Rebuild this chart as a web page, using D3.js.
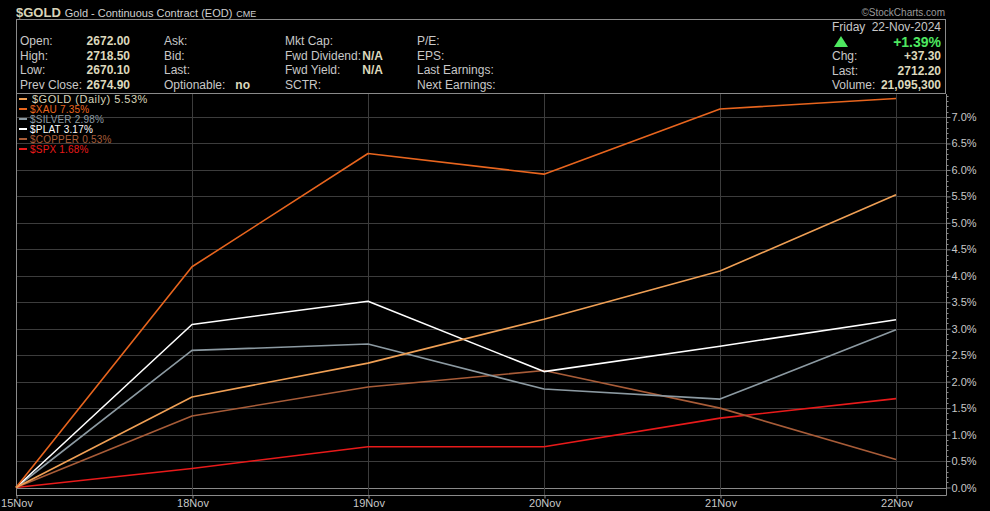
<!DOCTYPE html>
<html>
<head>
<meta charset="utf-8">
<script src="https://cdn.jsdelivr.net/npm/d3@7"></script>
<style>
  html, body { margin: 0; padding: 0; background: #000; }
  svg { display: block; font-family: "Liberation Sans", Arial, sans-serif; }
</style>
</head>
<body>
<svg id="chart" width="990" height="511"></svg>
<script>
// dates and % change series
const dates = ["15Nov", "18Nov", "19Nov", "20Nov", "21Nov", "22Nov"];
const gold = [0, 1.71, 2.35, 3.18, 4.09, 5.53];
const xau = [0, 4.17, 6.31, 5.92, 7.15, 7.35];
const silver = [0, 2.59, 2.71, 1.86, 1.67, 2.98];
const plat = [0, 3.08, 3.52, 2.19, 2.67, 3.17];
const copper = [0, 1.35, 1.90, 2.21, 1.50, 0.53];
const spx = [0, 0.36, 0.77, 0.77, 1.31, 1.68];

const seriesNames = ["$GOLD (Daily) 5.53%", "$XAU 7.35%", "$SILVER 2.98%", "$PLAT 3.17%", "$COPPER 0.53%", "$SPX 1.68%"];
const seriesColors = ["#f0a055", "#e8651e", "#8c9aa2", "#ffffff", "#a85c38", "#e81a1a"];
const legendText = ["#d8d4b8", "#e8651e", "#8c9aa2", "#ffffff", "#a85c38", "#e81a1a"];
const yTicks = [0, 0.5, 1, 1.5, 2, 2.5, 3, 3.5, 4, 4.5, 5, 5.5, 6, 6.5, 7];

// header quote table
const quoteLabels = [["Open:", "High:", "Low:", "Prev Close:"], ["Ask:", "Bid:", "Last:", "Optionable:"], ["Mkt Cap:", "Fwd Dividend:", "Fwd Yield:", "SCTR:"], ["P/E:", "EPS:", "Last Earnings:", "Next Earnings:"]];
const quoteValues = [["2672.00", "2718.50", "2670.10", "2674.90"], ["", "", "", "no"], ["", "N/A", "N/A", ""], ["", "", "", ""]];
const rightLabels = ["Chg:", "Last:", "Volume:"];
const rightValues = ["+37.30", "2712.20", "21,095,300"];

const svg = d3.select("#chart");
const plot = { left: 16, right: 946, top: 94, bottom: 495 };

const x = d3.scalePoint().domain(dates).range([16, 896]);
const y = d3.scaleLinear().domain([0, 7]).range([487.5, 117]);

// title
const title = svg.append("text").attr("x", 16).attr("y", 17);
title.append("tspan").attr("fill", "#d8d4b8").attr("font-weight", "bold").attr("font-size", 13).text("$GOLD");
title.append("tspan").attr("fill", "#cfcfcf").attr("font-size", 11).attr("dx", 4).text("Gold - Continuous Contract (EOD)");
title.append("tspan").attr("fill", "#cfcfcf").attr("font-size", 9).attr("dx", 4).text("CME");
svg.append("text").attr("x", 945).attr("y", 16).attr("text-anchor", "end")
  .attr("fill", "#9a9a9a").attr("font-size", 10).text("\u00A9StockCharts.com");

// header box
svg.append("rect").attr("x", 16.5).attr("y", 19.5).attr("width", 929).attr("height", 74)
  .attr("fill", "none").attr("stroke", "#8a8a8a");

const rowY = [45, 60, 74, 89];
const colX = [20, 164, 285, 417];
const valX = [130, 250, 383, null];
quoteLabels.forEach((col, ci) => {
  col.forEach((lab, ri) => {
    svg.append("text").attr("x", colX[ci]).attr("y", rowY[ri])
      .attr("fill", "#c8c8c8").attr("font-size", 12).text(lab);
    const v = quoteValues[ci][ri];
    if (v && valX[ci] != null) {
      svg.append("text").attr("x", valX[ci]).attr("y", rowY[ri]).attr("text-anchor", "end")
        .attr("fill", "#dcd8bc").attr("font-size", 12).attr("font-weight", "bold").text(v);
    }
  });
});

// right quote panel
svg.append("text").attr("x", 832).attr("y", 31).attr("fill", "#c8c8c8").attr("font-size", 12).text("Friday");
svg.append("text").attr("x", 941).attr("y", 31).attr("text-anchor", "end").attr("fill", "#c8c8c8").attr("font-size", 12).text("22-Nov-2024");
svg.append("path").attr("d", "M834,47 L841,36 L848,47 Z").attr("fill", "#4ee860");
svg.append("text").attr("x", 941).attr("y", 47).attr("text-anchor", "end").attr("fill", "#4ee860")
  .attr("font-size", 14).attr("font-weight", "bold").text("+1.39%");
rightLabels.forEach((lab, i) => {
  svg.append("text").attr("x", 832).attr("y", 60 + i * 14.5).attr("fill", "#c8c8c8").attr("font-size", 12).text(lab);
  svg.append("text").attr("x", 941).attr("y", 60 + i * 14.5).attr("text-anchor", "end")
    .attr("fill", "#dcd8bc").attr("font-size", 12).attr("font-weight", "bold").text(rightValues[i]);
});

// plot grid
const grid = svg.append("g");
grid.selectAll("line.h").data(yTicks).enter().append("line")
  .attr("x1", plot.left).attr("x2", plot.right)
  .attr("y1", d => Math.round(y(d)) + 0.5).attr("y2", d => Math.round(y(d)) + 0.5)
  .attr("stroke", d => d === 0 ? "#8a8a8a" : "#3c3c3c").attr("stroke-width", 1);
grid.selectAll("line.v").data(dates.slice(1)).enter().append("line")
  .attr("x1", d => x(d) + 0.5).attr("x2", d => x(d) + 0.5)
  .attr("y1", plot.top).attr("y2", plot.bottom)
  .attr("stroke", "#3c3c3c");

// plot frame
svg.append("line").attr("x1", plot.left).attr("x2", plot.right + 0.5).attr("y1", plot.bottom + 0.5).attr("y2", plot.bottom + 0.5).attr("stroke", "#8a8a8a");
svg.append("line").attr("x1", plot.right + 0.5).attr("x2", plot.right + 0.5).attr("y1", plot.top).attr("y2", plot.bottom + 0.5).attr("stroke", "#8a8a8a");
svg.append("line").attr("x1", plot.left + 0.5).attr("x2", plot.left + 0.5).attr("y1", plot.top).attr("y2", plot.bottom + 0.5).attr("stroke", "#8a8a8a");

// right y axis
const yAxis = d3.axisRight(y).tickValues(yTicks).tickSize(4).tickPadding(1)
  .tickFormat(d => d.toFixed(1) + "%");
const ya = svg.append("g").attr("transform", `translate(${plot.right + 0.5},0)`).call(yAxis);
ya.select(".domain").remove();
ya.selectAll("line").attr("stroke", "#8a8a8a");
ya.selectAll("text").attr("fill", "#c8c8c8").attr("font-size", 11).attr("font-family", "Liberation Sans, Arial, sans-serif");
const minor = d3.range(0, 7.45, 0.1).filter(v => Math.abs(v * 2 - Math.round(v * 2)) > 0.01);
svg.append("g").selectAll("line").data(minor).enter().append("line")
  .attr("x1", plot.right).attr("x2", plot.right + 2.5)
  .attr("y1", d => Math.round(y(d)) + 0.5).attr("y2", d => Math.round(y(d)) + 0.5)
  .attr("stroke", "#8a8a8a");

// bottom x axis
const xAxis = d3.axisBottom(x).tickSize(3).tickPadding(1);
const xa = svg.append("g").attr("transform", `translate(0.5,${plot.bottom + 0.5})`).call(xAxis);
xa.select(".domain").remove();
xa.selectAll("line").attr("stroke", "#8a8a8a");
xa.selectAll("text").attr("fill", "#c8c8c8").attr("font-size", 11).attr("font-family", "Liberation Sans, Arial, sans-serif");

// series lines (draw GOLD last so it sits on top like the original)
const allSeries = [gold, xau, silver, plat, copper, spx];
const line = d3.line().x((d, i) => x(dates[i])).y(d => y(d));
const order = [5, 4, 2, 3, 1, 0];
svg.append("g").selectAll("path").data(order).enter().append("path")
  .attr("d", i => line(allSeries[i]))
  .attr("fill", "none").attr("stroke", i => seriesColors[i]).attr("stroke-width", 1.6)
  .attr("stroke-linejoin", "round");

// legend
const lg = svg.append("g");
seriesNames.forEach((name, i) => {
  const ly = 99 + i * 10;
  lg.append("line").attr("x1", 19).attr("x2", 27).attr("y1", ly).attr("y2", ly)
    .attr("stroke", seriesColors[i]).attr("stroke-width", 2);
  lg.append("text").attr("x", i === 0 ? 32 : 30).attr("y", ly + 3.5).attr("fill", legendText[i])
    .attr("font-size", i === 0 ? 11 : 10).attr("letter-spacing", i === 0 ? 0.5 : 0.2).text(name);
});
</script>
</body>
</html>
